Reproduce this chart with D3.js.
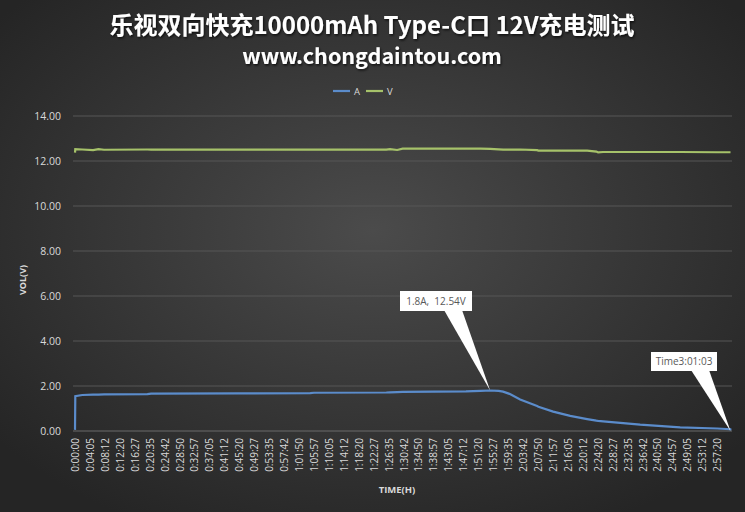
<!DOCTYPE html>
<html>
<head>
<meta charset="utf-8">
<script src="https://d3js.org/d3.v7.min.js"></script>
<style>
  body { margin: 0; background: #333; }
  svg { display: block; font-family: "Open Sans", "Noto Sans", sans-serif; }
</style>
</head>
<body>
<div id="chart"></div>
<script>
// time stamps of the readings (h:mm:ss)
var times = ["0:00:00","0:00:05","0:02:00","0:05:00","0:06:30","0:08:00","0:20:00","0:21:00",
  "0:45:00","1:05:00","1:06:00","1:26:00","1:27:00","1:29:00","1:30:30","1:48:00","1:52:00",
  "1:54:40","1:57:00","1:58:15","2:00:00","2:02:57","2:07:38","2:08:00","2:12:04","2:16:46",
  "2:21:28","2:24:00","2:24:30","2:25:53","2:36:06","2:47:09","2:57:22","3:01:00","3:01:03"];
var ampValues = [0.05,1.55,1.60,1.62,1.62,1.63,1.64,1.66,
  1.67,1.68,1.70,1.71,1.72,1.73,1.74,1.76,1.78,
  1.80,1.78,1.75,1.65,1.40,1.11,1.08,0.86,0.67,
  0.53,0.46,0.45,0.43,0.28,0.16,0.11,0.08,0.03];
var voltValues = [12.37,12.53,12.51,12.48,12.53,12.50,12.51,12.51,
  12.51,12.51,12.51,12.51,12.53,12.49,12.55,12.55,12.55,
  12.54,12.52,12.51,12.51,12.51,12.48,12.46,12.46,12.46,
  12.46,12.42,12.38,12.40,12.40,12.40,12.39,12.39,12.39];
var tickLabels = ["0:00:00","0:04:05","0:08:12","0:12:20","0:16:27","0:20:35","0:24:42","0:28:50",
  "0:32:57","0:37:05","0:41:12","0:45:20","0:49:27","0:53:35","0:57:42","1:01:50","1:05:57",
  "1:10:05","1:14:12","1:18:20","1:22:27","1:26:35","1:30:42","1:34:50","1:38:57","1:43:05",
  "1:47:12","1:51:20","1:55:27","1:59:35","2:03:42","2:07:50","2:11:57","2:16:05","2:20:12",
  "2:24:20","2:28:27","2:32:35","2:36:42","2:40:50","2:44:57","2:49:05","2:53:12","2:57:20"];
var yTicks = [0, 2, 4, 6, 8, 10, 12, 14];
var seriesNames = ["A", "V"];
var seriesColors = ["#5b8ccb", "#a6c26a"];
var peakIndex = 17;

function toSec(s) {
  var p = s.split(":").map(Number);
  return p[0] * 3600 + p[1] * 60 + p[2];
}

var width = 745, height = 512;
var margin = {top: 116, right: 14, bottom: 81, left: 75};

var svg = d3.select("#chart").append("svg")
    .attr("width", width)
    .attr("height", height);

var defs = svg.append("defs");
var grad = defs.append("radialGradient")
    .attr("id", "bg").attr("cx", "50%").attr("cy", "45%").attr("r", "65%");
grad.append("stop").attr("offset", "0%").attr("stop-color", "#4b4b4b");
grad.append("stop").attr("offset", "100%").attr("stop-color", "#252525");
var shadow = defs.append("filter").attr("id", "shadow")
    .attr("x", "-5%").attr("y", "-20%").attr("width", "110%").attr("height", "140%");
shadow.append("feDropShadow").attr("dx", 1).attr("dy", 1.5).attr("stdDeviation", 1)
    .attr("flood-color", "#000").attr("flood-opacity", 0.7);

svg.append("rect").attr("width", width).attr("height", height).attr("fill", "url(#bg)");

// titles
svg.append("text")
    .attr("x", 372).attr("y", 34)
    .attr("text-anchor", "middle")
    .attr("fill", "#fff")
    .attr("filter", "url(#shadow)")
    .style("font-family", "'Noto Sans CJK SC', sans-serif")
    .style("font-size", "24px")
    .style("font-weight", "bold")
    .text("乐视双向快充10000mAh Type-C口 12V充电测试");
svg.append("text")
    .attr("x", 372).attr("y", 64)
    .attr("text-anchor", "middle")
    .attr("fill", "#fff")
    .attr("filter", "url(#shadow)")
    .style("font-family", "'Noto Sans CJK SC', sans-serif")
    .style("font-size", "21.5px")
    .style("font-weight", "bold")
    .text("www.chongdaintou.com");

var data = times.map(function(t, i) {
  return {t: toSec(t), a: ampValues[i], v: voltValues[i]};
});

var x = d3.scaleLinear()
    .domain([0, toSec(times[times.length - 1])])
    .range([margin.left, 730.5]);
var y = d3.scaleLinear()
    .domain([0, 14])
    .range([431, margin.top]);

// grid lines
svg.append("g").selectAll("line")
    .data(yTicks)
  .enter().append("line")
    .attr("x1", 73).attr("x2", 732)
    .attr("y1", function(d) { return y(d); })
    .attr("y2", function(d) { return y(d); })
    .attr("stroke", function(d) { return d === 0 ? "#6a6a6a" : "#575757"; })
    .attr("stroke-width", 1);

// y axis
var yAxis = svg.append("g")
    .attr("transform", "translate(73,0)")
    .call(d3.axisLeft(y).tickValues(yTicks).tickFormat(d3.format(".2f")).tickSize(0).tickPadding(12));
yAxis.select(".domain").remove();
yAxis.selectAll("text")
    .attr("fill", "#d9d9d9")
    .style("font-size", "10.5px")
    .style("font-family", "'Open Sans', sans-serif");

svg.append("text")
    .attr("transform", "translate(26,280) rotate(-90)")
    .attr("text-anchor", "middle")
    .attr("fill", "#d9d9d9")
    .style("font-size", "9px")
    .style("font-weight", "bold")
    .text("VOL(V)");

// x axis
var tickSecs = tickLabels.map(function(d, i) { return i * 247.5; });
var xAxis = svg.append("g")
    .attr("transform", "translate(0,431)")
    .call(d3.axisBottom(x).tickValues(tickSecs)
      .tickFormat(function(d, i) { return tickLabels[i]; })
      .tickSize(0));
xAxis.select(".domain").remove();
xAxis.selectAll("text")
    .attr("fill", "#d9d9d9")
    .style("font-size", "10px")
    .style("font-family", "'Open Sans', sans-serif")
    .attr("text-anchor", "end")
    .attr("transform", "rotate(-90)")
    .attr("x", -7)
    .attr("y", 0)
    .attr("dy", "0.35em");

svg.append("text")
    .attr("x", 397).attr("y", 493)
    .attr("text-anchor", "middle")
    .attr("fill", "#d9d9d9")
    .style("font-size", "9.5px")
    .style("font-weight", "bold")
    .text("TIME(H)");

// lines
var lineA = d3.line().x(function(d) { return x(d.t); }).y(function(d) { return y(d.a); });
var lineV = d3.line().x(function(d) { return x(d.t); }).y(function(d) { return y(d.v); });

svg.append("path").datum(data)
    .attr("d", lineV)
    .attr("fill", "none")
    .attr("stroke", seriesColors[1])
    .attr("stroke-width", 2.2);
svg.append("path").datum(data)
    .attr("d", lineA)
    .attr("fill", "none")
    .attr("stroke", seriesColors[0])
    .attr("stroke-width", 2.2);

// legend
var legend = svg.append("g").selectAll("g")
    .data(seriesNames)
  .enter().append("g")
    .attr("transform", function(d, i) { return "translate(" + (333 + i * 33) + ",91)"; });
legend.append("line")
    .attr("x1", 0).attr("x2", 17)
    .attr("stroke", function(d, i) { return seriesColors[i]; })
    .attr("stroke-width", 2.2);
legend.append("text")
    .attr("x", 21).attr("y", 3.5)
    .attr("fill", "#d9d9d9")
    .style("font-size", "9.5px")
    .text(function(d) { return d; });

// callouts
function callout(tx, ty, bx, by, bw, bh, p1, p2, label) {
  var g = svg.append("g");
  g.append("path")
      .attr("d", "M" + (bx + p1) + "," + (by + bh - 1) + "L" + tx + "," + ty + "L" + (bx + p2) + "," + (by + bh - 1) + "Z")
      .attr("fill", "#fff");
  g.append("rect")
      .attr("x", bx).attr("y", by)
      .attr("width", bw).attr("height", bh)
      .attr("fill", "#fff");
  g.append("text")
      .attr("x", bx + bw / 2).attr("y", by + bh / 2 + 3.5)
      .attr("text-anchor", "middle")
      .attr("fill", "#595959")
      .style("font-size", "10px")
      .style("white-space", "pre")
      .text(label);
}
var peak = data[peakIndex];
var last = data[data.length - 1];
callout(x(peak.t), y(peak.a), 400, 291, 72, 20, 44, 62,
  peak.a.toFixed(1) + "A,  " + peak.v.toFixed(2) + "V");
callout(x(last.t), y(0), 651, 352, 66, 19, 40, 58, "Time3:01:03");
</script>
</body>
</html>
